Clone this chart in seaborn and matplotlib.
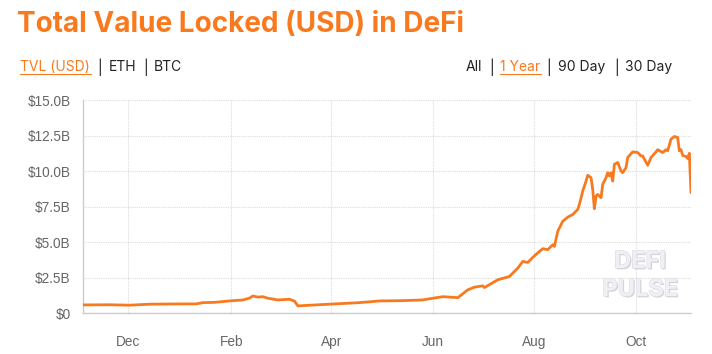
import matplotlib
matplotlib.use("Agg")
import matplotlib.pyplot as plt
import matplotlib.patheffects as pe
from matplotlib.lines import Line2D
import seaborn as sns
import pandas as pd

dates = [
    "2019-11-04", "2019-11-05", "2019-11-20", "2019-12-02", "2019-12-14", "2020-01-01",
    "2020-01-11", "2020-01-15", "2020-01-22", "2020-01-31", "2020-02-08", "2020-02-12",
    "2020-02-14", "2020-02-17", "2020-02-20", "2020-02-23", "2020-02-29", "2020-03-07",
    "2020-03-10", "2020-03-12", "2020-03-18", "2020-03-31", "2020-04-18", "2020-04-30",
    "2020-05-14", "2020-05-26", "2020-06-01", "2020-06-07", "2020-06-16", "2020-06-22",
    "2020-06-26", "2020-07-01", "2020-07-02", "2020-07-10", "2020-07-17", "2020-07-22",
    "2020-07-25", "2020-07-28", "2020-08-01", "2020-08-06", "2020-08-09", "2020-08-12",
    "2020-08-13", "2020-08-15", "2020-08-18", "2020-08-21", "2020-08-24", "2020-08-27",
    "2020-08-28", "2020-08-30", "2020-09-01", "2020-09-02", "2020-09-04", "2020-09-05",
    "2020-09-06", "2020-09-07", "2020-09-08", "2020-09-10", "2020-09-11", "2020-09-13",
    "2020-09-14", "2020-09-15", "2020-09-16", "2020-09-17", "2020-09-18", "2020-09-20",
    "2020-09-22", "2020-09-23", "2020-09-25", "2020-09-26", "2020-09-29", "2020-10-02",
    "2020-10-04", "2020-10-05", "2020-10-08", "2020-10-10", "2020-10-13", "2020-10-14",
    "2020-10-17", "2020-10-19", "2020-10-20", "2020-10-22", "2020-10-24", "2020-10-26",
    "2020-10-27", "2020-10-28", "2020-10-29", "2020-10-31", "2020-11-01", "2020-11-02",
    "2020-11-03",
]
tvl_billion = [
    0.57, 0.57, 0.58, 0.55, 0.62, 0.64,
    0.64, 0.73, 0.75, 0.85, 0.92, 1.05,
    1.20, 1.12, 1.15, 1.04, 0.92, 0.97,
    0.83, 0.50, 0.54, 0.62, 0.73, 0.85,
    0.87, 0.92, 1.04, 1.15, 1.08, 1.63,
    1.82, 1.91, 1.79, 2.34, 2.57, 3.16,
    3.63, 3.56, 4.03, 4.53, 4.46, 4.81,
    4.69, 5.75, 6.46, 6.75, 6.94, 7.29,
    7.64, 8.58, 9.29, 9.70, 9.53, 8.70,
    7.34, 8.23, 8.35, 8.12, 9.06, 9.53,
    9.88, 9.65, 9.88, 9.29, 10.47, 10.60,
    10.00, 9.88, 10.24, 10.95, 11.35, 11.30,
    11.06, 11.06, 10.40, 10.95, 11.35, 11.50,
    11.30, 11.50, 11.42, 12.24, 12.43, 12.36,
    11.42, 11.50, 11.10, 11.02, 10.88, 11.25,
    8.47,
]
y_ticks = [0, 2.5, 5.0, 7.5, 10.0, 12.5, 15.0]
y_tick_labels = ["$0", "$2.5B", "$5.0B", "$7.5B", "$10.0B", "$12.5B", "$15.0B"]
x_tick_dates = ["2019-12-01", "2020-02-01", "2020-04-01", "2020-06-01", "2020-08-01", "2020-10-01"]
x_tick_labels = ["Dec", "Feb", "Apr", "Jun", "Aug", "Oct"]

df = pd.DataFrame({"date": pd.to_datetime(dates), "tvl": tvl_billion})

ORANGE = "#f97a1e"
GRAY_TXT = "#666666"

sns.set_style("white")
plt.rcParams["font.family"] = ["Liberation Sans", "DejaVu Sans"]

W, H = 712, 354
fig = plt.figure(figsize=(W / 100, H / 100), dpi=100)
ax = fig.add_axes([83 / W, 1 - 313 / H, (691 - 83) / W, (313 - 100) / H])

sns.lineplot(data=df, x="date", y="tvl", ax=ax, color=ORANGE, linewidth=2.0, zorder=3)

ax.set_xlim(pd.Timestamp("2019-11-04"), pd.Timestamp("2020-11-03"))
ax.set_ylim(0, 15)
ax.set_yticks(y_ticks)
ax.set_yticklabels(y_tick_labels)
ax.set_xticks(pd.to_datetime(x_tick_dates))
ax.set_xticklabels(x_tick_labels)
ax.set_xlabel("")
ax.set_ylabel("")

ax.grid(True, color="#dcdcdc", linestyle=(0, (1, 1)), linewidth=0.8)
for s in ["top", "right"]:
    ax.spines[s].set_visible(False)
for s in ["left", "bottom"]:
    ax.spines[s].set_color("#cccccc")
    ax.spines[s].set_linewidth(1.0)
ax.tick_params(axis="y", length=8, width=0.8, color="#dddddd", labelsize=9.8,
               labelcolor=GRAY_TXT, pad=1)
ax.tick_params(axis="x", length=10, width=0.8, color="#dddddd", labelsize=9.8,
               labelcolor=GRAY_TXT, pad=6)

# Title
fig.text(17 / W, 1 - 24 / H, "Total Value Locked (USD) in DeFi", color=ORANGE,
         fontsize=20.1, fontweight="bold", family=["Inter", "DejaVu Sans"],
         ha="left", va="center")

# Sub-menu
sub_y = 1 - 67 / H
fs_sub = 10
fam_sub = ["Inter", "DejaVu Sans"]
DARK = "#222222"
left_items = [(20, "TVL (USD)", ORANGE), (109, "ETH", DARK), (154, "BTC", DARK)]
right_items = [(466, "All", DARK), (500, "1 Year", ORANGE), (558, "90 Day", DARK),
               (625, "30 Day", DARK)]
separators = [100, 146, 492, 549, 617]
for x, t, c in left_items + right_items:
    fig.text(x / W, sub_y, t, color=c, fontsize=fs_sub, family=fam_sub, ha="left", va="center")
for x in separators:
    fig.text(x / W, sub_y, "|", color=DARK, fontsize=fs_sub, family=fam_sub,
             ha="center", va="center")
for x0, x1 in [(20, 91), (500, 541)]:
    fig.add_artist(Line2D([x0 / W, x1 / W], [1 - 74 / H, 1 - 74 / H], color=ORANGE,
                          linewidth=0.8, transform=fig.transFigure))

# Watermark
wm_fx = [pe.withSimplePatchShadow(offset=(1.0, -1.0), shadow_rgbFace="#d4d4dc", alpha=1.0),
         pe.Stroke(linewidth=0.7, foreground="#d8d8e0"), pe.Normal()]
for txt, yy in [("DEFI", 262), ("PULSE", 290)]:
    t = ax.text(640 / W, 1 - yy / H, txt, transform=fig.transFigure, color="#f0f0f4",
                fontsize=17, fontweight="bold", family=["Inter", "DejaVu Sans"],
                ha="center", va="center", zorder=1)
    t.set_path_effects(wm_fx)

fig.savefig("out.png", dpi=100)
